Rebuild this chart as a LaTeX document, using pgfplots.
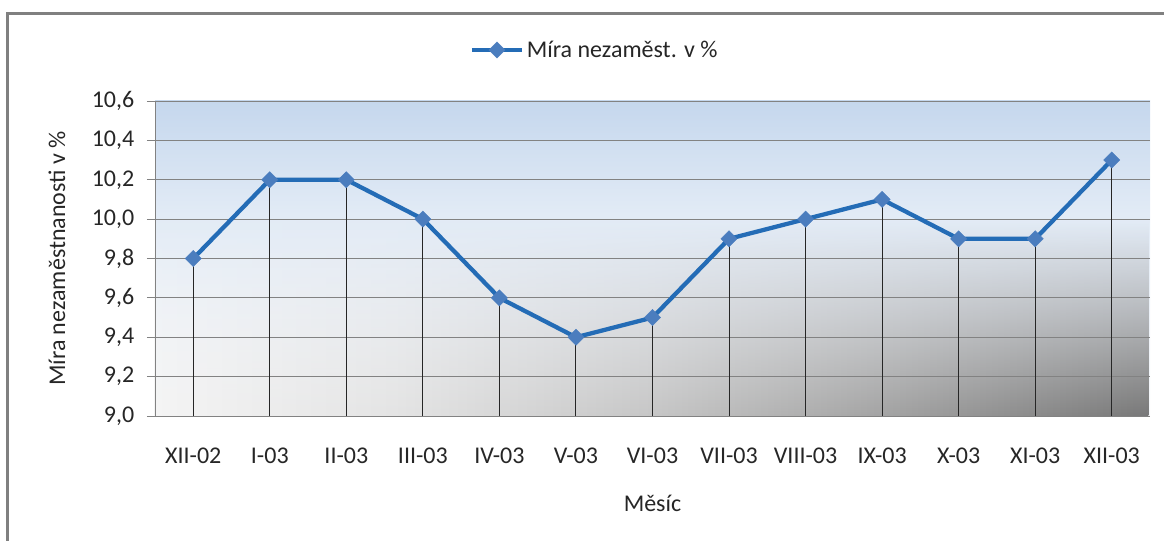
\documentclass[border=0pt]{standalone}
\usepackage{pgfplots}
\pgfplotsset{compat=1.18}
\usetikzlibrary{fadings}
\usepackage{fontspec}
\setmainfont{Carlito}
\definecolor{linec}{RGB}{36,108,182}
\definecolor{markc}{RGB}{75,125,190}
\definecolor{framec}{RGB}{128,128,128}
\definecolor{gridc}{RGB}{130,130,130}
\definecolor{bgblue}{RGB}{197,215,237}
\definecolor{bgmid}{RGB}{226,235,246}
\definecolor{bglow}{RGB}{237,242,249}
\definecolor{bgbot}{RGB}{245,247,250}
\definecolor{g0}{RGB}{244,244,244}
\definecolor{g1}{RGB}{228,228,228}
\definecolor{g2}{RGB}{198,198,198}
\definecolor{g3}{RGB}{162,162,162}
\definecolor{g4}{RGB}{120,120,120}
\pgfdeclareverticalshading{bgv}{100bp}{color(0bp)=(bgbot); color(25bp)=(bgbot); color(40bp)=(bglow); color(57bp)=(bgmid); color(75bp)=(bgblue); color(100bp)=(bgblue)}
\pgfdeclarehorizontalshading{grayh}{100bp}{color(0bp)=(g0); color(25bp)=(g0); color(37bp)=(g1); color(50bp)=(g2); color(62bp)=(g3); color(75bp)=(g4); color(100bp)=(g4)}
\begin{document}
\begin{tikzpicture}[x=1pt,y=1pt]
\useasboundingbox (0,0) rectangle (873,405);
\draw[framec, line width=1.6pt] (5.6,-20) -- (5.6,394.9) -- (900,394.9);
% plot-area background: blue at top, grey towards the bottom right
\shade[shading=bgv] (116.25,93) rectangle (862.5,329.25);
\shade[shading=grayh, path fading=north] (116.25,93) rectangle (862.5,239.5);
\begin{axis}[
  at={(116.25pt,93pt)}, anchor=south west,
  scale only axis, width=746.25pt, height=236.25pt,
  xmin=-0.5, xmax=12.5, ymin=9, ymax=10.6,
  axis x line*=bottom, axis y line*=left,
  axis line style={gridc, line width=0.75pt, -},
  xtick={0,...,12},
  xticklabels={XII-02,I-03,II-03,III-03,IV-03,V-03,VI-03,VII-03,VIII-03,IX-03,X-03,XI-03,XII-03},
  x tick style={draw=none},
  ytick={9,9.2,9.4,9.6,9.8,10,10.2,10.4,10.6},
  y tick style={gridc, line width=0.75pt},
  tick align=outside, major tick length=6pt,
  ymajorgrids, grid style={gridc, line width=0.75pt},
  y tick label style={/pgf/number format/.cd, fixed, fixed zerofill, precision=1, use comma, assume math mode=true, /tikz/.cd, xshift=-6pt},
  x tick label style={yshift=-14.5pt},
  tick label style={font=\fontsize{18}{21}\selectfont, text=black!85},
  xlabel={Měsíc},
  xlabel style={at={(axis description cs:0.5,0)}, anchor=center, yshift=-65.25pt, font=\fontsize{18}{21}\selectfont, text=black!85},
  ylabel={Míra nezaměstnanosti v \%},
  ylabel style={at={(axis description cs:-0.0985,0.5)}, anchor=center, font=\fontsize{18}{21}\selectfont, text=black!85},
  legend style={at={(axis description cs:0.4422,1.1619)}, anchor=center, draw=none, fill=none, font=\fontsize{18}{21}\selectfont, text=black!85, inner sep=1pt},
  legend image code/.code={\draw[mark repeat=2, mark phase=2, #1] plot coordinates {(0pt,0pt) (18.75pt,0pt) (37.5pt,0pt)};},
]
\addplot[ycomb, black!85, line width=0.8pt, mark=none, forget plot] coordinates {
(0,9.8) (1,10.2) (2,10.2) (3,10.0) (4,9.6) (5,9.4) (6,9.5) (7,9.9) (8,10.0) (9,10.1) (10,9.9) (11,9.9) (12,10.3)
};
\addplot[color=linec, line width=3.2pt, mark=square*, mark size=4.3pt, mark options={fill=markc, draw=markc, line width=0.3pt, rotate=45, solid}] coordinates {
(0,9.8) (1,10.2) (2,10.2) (3,10.0) (4,9.6) (5,9.4) (6,9.5) (7,9.9) (8,10.0) (9,10.1) (10,9.9) (11,9.9) (12,10.3)
};
\addlegendentry{Míra nezaměst. v \%}
\end{axis}
\end{tikzpicture}
\end{document}
